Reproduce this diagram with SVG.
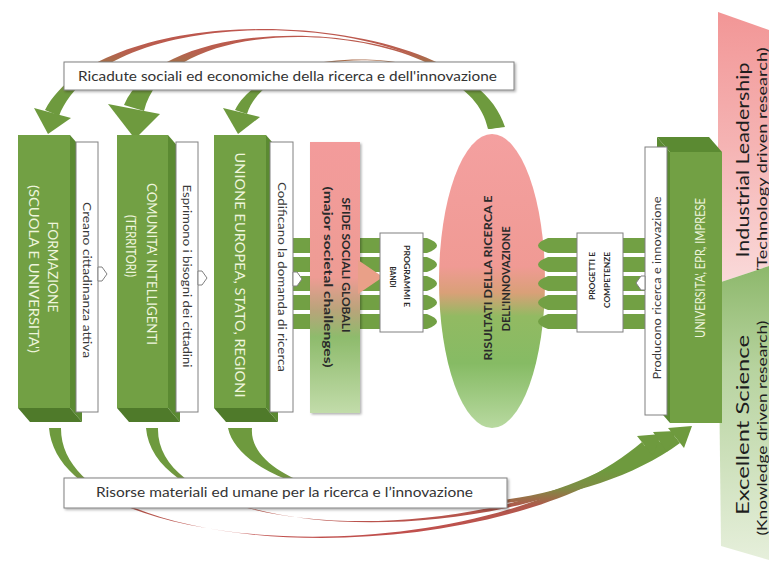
<svg xmlns="http://www.w3.org/2000/svg" width="769" height="561" viewBox="0 0 769 561">
<defs>
<linearGradient id="gTop" gradientUnits="userSpaceOnUse" x1="0" y1="20" x2="0" y2="112">
<stop offset="0" stop-color="#c0504d"/><stop offset="0.35" stop-color="#b8604e"/><stop offset="0.6" stop-color="#8c8446"/><stop offset="0.8" stop-color="#6e9a3e"/><stop offset="1" stop-color="#6e9a3e"/>
</linearGradient>
<linearGradient id="gBot" gradientUnits="userSpaceOnUse" x1="0" y1="470" x2="0" y2="530">
<stop offset="0" stop-color="#6e9a3e"/><stop offset="0.3" stop-color="#7e8c44"/><stop offset="0.6" stop-color="#b0584c"/><stop offset="1" stop-color="#c0504d"/>
</linearGradient>
<linearGradient id="gSfide" x1="0" y1="0" x2="0" y2="1">
<stop offset="0" stop-color="#f39b9b"/><stop offset="0.5" stop-color="#ee9c94"/><stop offset="0.62" stop-color="#b9a47a"/><stop offset="0.72" stop-color="#8ebb6c"/><stop offset="1" stop-color="#c2dcaa"/>
</linearGradient>
<linearGradient id="gEll" x1="0" y1="0" x2="0" y2="1">
<stop offset="0" stop-color="#f4a0a0"/><stop offset="0.45" stop-color="#f09a94"/><stop offset="0.54" stop-color="#d9a078"/><stop offset="0.62" stop-color="#92ba62"/><stop offset="0.78" stop-color="#86bb64"/><stop offset="1" stop-color="#b8d9a0"/>
</linearGradient>
<linearGradient id="gInd" x1="0" y1="0" x2="0" y2="1">
<stop offset="0" stop-color="#f29696"/><stop offset="0.5" stop-color="#f5b4b4"/><stop offset="1" stop-color="#fadada"/>
</linearGradient>
<linearGradient id="gExc" x1="0" y1="0" x2="0" y2="1">
<stop offset="0" stop-color="#8db86b"/><stop offset="0.35" stop-color="#b7d39f"/><stop offset="1" stop-color="#e6efdb"/>
</linearGradient>
<filter id="sh" x="-10%" y="-10%" width="130%" height="130%">
<feDropShadow dx="1.5" dy="1.5" stdDeviation="1" flood-color="#000" flood-opacity="0.3"/>
</filter>
</defs>
<style>
.front{fill:#72a044}
.side{fill:#5b8a32}
.bot{fill:#4f7a2a}
.wbox{fill:#fff;stroke:#808080;stroke-width:1}
.arc{stroke:none}
.ah{fill:#6e9a3e}
.t{font-family:Lato,"Liberation Sans",sans-serif;text-anchor:middle;dominant-baseline:central}
.ct{font-size:13px;fill:#eef5dc}
.wt{font-size:11px;fill:#3a3a3a}
.bt{font-weight:bold;fill:#2a2a2a}
.lab{font-family:Lato,"Liberation Sans",sans-serif;font-size:13px;fill:#333;text-anchor:middle}
.pt{fill:#1e1e1e}
</style>
<rect width="769" height="561" fill="#fff"/>

<g id="industrial-leadership">
<polygon points="718,12 769,30 769,266 718,283" fill="url(#gInd)"/>
<text class="t pt" font-size="18" transform="translate(742,160) rotate(-90)" textLength="195" lengthAdjust="spacingAndGlyphs">Industrial Leadership</text>
<text class="t pt" font-size="12.5" transform="translate(762,160) rotate(-90)" textLength="225" lengthAdjust="spacingAndGlyphs">(Technology driven research)</text>
</g>
<g id="excellent-science">
<polygon points="718,283 769,266 769,560 721,546" fill="url(#gExc)"/>
<text class="t pt" font-size="18" transform="translate(742,425) rotate(-90)" textLength="180" lengthAdjust="spacingAndGlyphs">Excellent Science</text>
<text class="t pt" font-size="12.5" transform="translate(762,428) rotate(-90)" textLength="215" lengthAdjust="spacingAndGlyphs">(Knowledge driven research)</text>
</g>

<g id="risultati">
<ellipse cx="492" cy="281" rx="53" ry="147" fill="url(#gEll)"/>
<text class="t bt" font-size="11.5" transform="translate(487,278) rotate(-90)" textLength="165" lengthAdjust="spacingAndGlyphs">RISULTATI DELLA RICERCA E</text>
<text class="t bt" font-size="11.5" transform="translate(505,279) rotate(-90)" textLength="105" lengthAdjust="spacingAndGlyphs">DELL'INNOVAZIONE</text>
</g>

<g id="connectors">
<path class="arc" fill="url(#gTop)" d="M505,127 C470,10 110,-10 45,110 L59,116 C110,-10 470,10 489,129 Z"/>
<path class="arc" fill="url(#gTop)" d="M501,127 C470,20 170,0 124,105 L144,111 C170,0 470,20 489,129 Z"/>
<path class="arc" fill="url(#gTop)" d="M498,127 C470,40 270,40 235,110 L247,114 C270,40 470,40 488,129 Z"/>
<polygon class="ah" points="34,108 71,118 48,134"/>
<polygon class="ah" points="108,104 160,114 135,139"/>
<polygon class="ah" points="223,108 260,117 238,134"/>
<path class="arc" fill="url(#gBot)" d="M49,428 C60,560 480,580 642,442 L648,450 C480,580 60,560 61,428 Z"/>
<path class="arc" fill="url(#gBot)" d="M146,428 C155,540 490,560 657,438 L663,446 C490,560 155,540 158,428 Z"/>
<path class="arc" fill="url(#gBot)" d="M228,428 C245,510 540,546 672,433 L680,443 C540,546 245,510 252,428 Z"/>
<polygon class="ah" points="653,456 637,436 661,434"/>
<polygon class="ah" points="667,452 653,432 676,431"/>
<polygon class="ah" points="684,448 668,428 692,426"/>
<g class="front">
<path d="M293,238 H427 Q447,245.5 427,253 H293 Z"/>
<path d="M293,257 H427 Q447,264.5 427,272 H293 Z"/>
<path d="M293,276 H427 Q447,283.5 427,291 H293 Z"/>
<path d="M293,295 H427 Q447,302.5 427,310 H293 Z"/>
<path d="M293,314 H427 Q447,321.5 427,329 H293 Z"/>
<path d="M645,238 H548 Q528,245.5 548,253 H645 Z"/>
<path d="M645,257 H548 Q528,264.5 548,272 H645 Z"/>
<path d="M645,276 H548 Q528,283.5 548,291 H645 Z"/>
<path d="M645,295 H548 Q528,302.5 548,310 H645 Z"/>
<path d="M645,314 H548 Q528,321.5 548,329 H645 Z"/>
</g>
</g>

<g id="formazione">
<polygon class="side" points="70,135 82,149 82,422 70,408"/>
<polygon class="bot" points="18,408 70,408 82,422 30,422"/>
<rect class="front" x="18" y="135" width="52" height="273"/>
<text class="t ct" transform="translate(53,267) rotate(90)" textLength="91" lengthAdjust="spacingAndGlyphs">FORMAZIONE</text>
<text class="t ct" transform="translate(34,269) rotate(90)" textLength="168" lengthAdjust="spacingAndGlyphs">(SCUOLA E UNIVERSITA')</text>
</g>
<g id="creano">
<rect class="wbox" x="76" y="142" width="22" height="270"/>
<polygon class="wbox" points="98,267 102,267 107,274 102,281 98,281"/>
<text class="t wt" transform="translate(87,280) rotate(90)" textLength="156" lengthAdjust="spacingAndGlyphs">Creano cittadinanza attiva</text>
</g>

<g id="comunita">
<polygon class="side" points="168,135 180,149 180,422 168,408"/>
<polygon class="bot" points="117,408 168,408 180,422 129,422"/>
<rect class="front" x="117" y="135" width="51" height="273"/>
<text class="t ct" transform="translate(152,264) rotate(90)" textLength="162" lengthAdjust="spacingAndGlyphs">COMUNITA' INTELLIGENTI</text>
<text class="t ct" transform="translate(131,246) rotate(90)" textLength="62" lengthAdjust="spacingAndGlyphs">(TERRITORI)</text>
</g>
<g id="esprimono">
<rect class="wbox" x="176" y="142" width="22" height="270"/>
<polygon class="wbox" points="198,271 202,271 207,278 202,285 198,285"/>
<text class="t wt" transform="translate(187,276) rotate(90)" textLength="183" lengthAdjust="spacingAndGlyphs">Esprimono i bisogni dei cittadini</text>
</g>

<g id="unione">
<polygon class="side" points="266,135 278,149 278,422 266,408"/>
<polygon class="bot" points="214,408 266,408 278,422 226,422"/>
<rect class="front" x="214" y="135" width="52" height="273"/>
<text class="t ct" transform="translate(240,275) rotate(90)" textLength="245" lengthAdjust="spacingAndGlyphs">UNIONE EUROPEA, STATO, REGIONI</text>
</g>
<g id="codificano">
<rect class="wbox" x="270" y="142" width="23" height="270"/>
<polygon class="wbox" points="293,272 297,272 302,279 297,286 293,286"/>
<text class="t wt" transform="translate(282,277) rotate(90)" textLength="190" lengthAdjust="spacingAndGlyphs">Codificano la domanda di ricerca</text>
</g>

<g id="sfide">
<rect x="310" y="142" width="50" height="271" fill="url(#gSfide)" filter="url(#sh)"/>
<polygon points="358,260 383,277 358,294" fill="#e9a088"/>
<text class="t bt" font-size="12" transform="translate(346,265) rotate(90)" textLength="135" lengthAdjust="spacingAndGlyphs">SFIDE SOCIALI GLOBALI</text>
<text class="t bt" font-size="12" transform="translate(328,277) rotate(90)" textLength="181" lengthAdjust="spacingAndGlyphs">(major societal challenges)</text>
</g>

<g id="programmi">
<rect class="wbox" x="380" y="233" width="43" height="99"/>
<text class="t bt" font-size="7" transform="translate(407,276) rotate(90)" textLength="62" lengthAdjust="spacingAndGlyphs">PROGRAMMI E</text>
<text class="t bt" font-size="7" transform="translate(393,277) rotate(90)" textLength="21" lengthAdjust="spacingAndGlyphs">BANDI</text>
</g>

<g id="progetti">
<rect class="wbox" x="577" y="233" width="46" height="99"/>
<text class="t bt" font-size="7" transform="translate(592,276) rotate(-90)" textLength="48" lengthAdjust="spacingAndGlyphs">PROGETTI E</text>
<text class="t bt" font-size="7" transform="translate(607,280) rotate(-90)" textLength="56" lengthAdjust="spacingAndGlyphs">COMPETENZE</text>
</g>

<g id="universita">
<polygon class="side" points="657,137 709,137 722,152 670,152"/>
<polygon class="side" points="657,137 670,152 670,423 657,408"/>
<rect class="front" x="670" y="152" width="52" height="271"/>
<text class="t ct" font-size="12" transform="translate(700,268) rotate(-90)" textLength="140" lengthAdjust="spacingAndGlyphs">UNIVERSITA', EPR, IMPRESE</text>
</g>
<g id="producono">
<rect class="wbox" x="645" y="147" width="22" height="268"/>
<polygon class="wbox" points="645,276 641,276 636,283 641,290 645,290"/>
<text class="t wt" transform="translate(656,288) rotate(-90)" textLength="183" lengthAdjust="spacingAndGlyphs">Producono ricerca e innovazione</text>
</g>

<g id="ricadute">
<rect class="wbox" x="64" y="62" width="450" height="28" filter="url(#sh)"/>
<text class="lab" x="287.5" y="81" textLength="419" lengthAdjust="spacingAndGlyphs">Ricadute sociali ed economiche della ricerca e dell'innovazione</text>
</g>
<g id="risorse">
<rect class="wbox" x="64" y="478" width="443" height="30" filter="url(#sh)"/>
<text class="lab" x="284.5" y="497" textLength="377" lengthAdjust="spacingAndGlyphs">Risorse materiali ed umane per la ricerca e l’innovazione</text>
</g>
</svg>
